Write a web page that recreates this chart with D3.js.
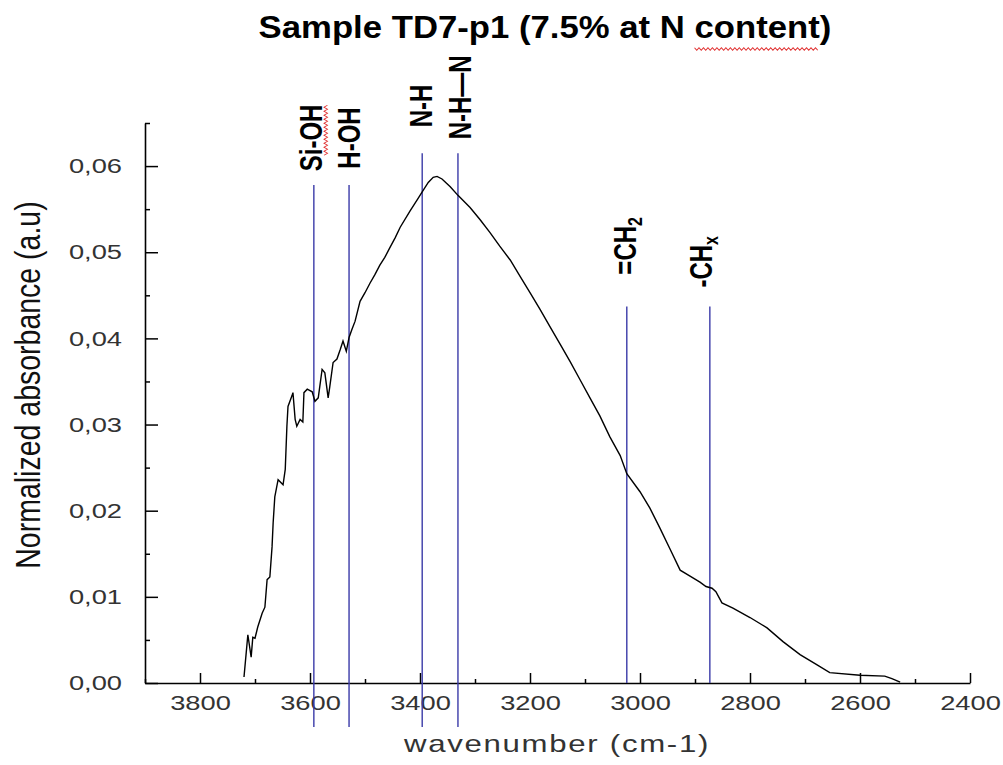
<!DOCTYPE html>
<html>
<head>
<meta charset="utf-8">
<script src="https://cdn.jsdelivr.net/npm/d3@7"></script>
<style>
body { margin: 0; background: #fff; }
text { font-family: "Liberation Sans", Arial, sans-serif; }
</style>
</head>
<body>
<div id="graph"></div>
<script>
// spectrum (cm-1, normalized absorbance)
var wavenumber = [3720, 3716, 3713, 3707, 3704, 3700, 3695, 3687, 3682, 3678, 3673, 3669, 3667, 3664, 3658, 3649, 3645, 3642, 3640, 3633,
    3631, 3627, 3624, 3618, 3613, 3611, 3605, 3596, 3591, 3585, 3578, 3573, 3567, 3564, 3558, 3551, 3545, 3540, 3534, 3529,
    3524, 3518, 3509, 3500, 3491, 3482, 3473, 3464, 3455, 3445, 3436, 3418, 3404, 3396, 3385, 3376, 3369, 3360, 3345, 3331,
    3309, 3291, 3273, 3255, 3236, 3218, 3200, 3182, 3164, 3145, 3127, 3109, 3091, 3073, 3055, 3036, 3024, 3000, 2982, 2964,
    2945, 2927, 2909, 2891, 2880, 2869, 2862, 2851, 2831, 2800, 2769, 2740, 2709, 2678, 2655, 2600, 2555, 2542, 2527];
var absorbance = [0.0007, 0.0035, 0.0056, 0.0030, 0.0053, 0.0052, 0.0065, 0.0081, 0.0088, 0.0120, 0.0123, 0.0158, 0.0186, 0.0216, 0.0236, 0.0230, 0.0248, 0.0298, 0.0321, 0.0333,
    0.0337, 0.0306, 0.0298, 0.0306, 0.0303, 0.0337, 0.0341, 0.0338, 0.0327, 0.0331, 0.0364, 0.0360, 0.0331, 0.0344, 0.0372, 0.0376, 0.0387, 0.0397, 0.0385, 0.0401,
    0.0410, 0.0420, 0.0443, 0.0453, 0.0464, 0.0474, 0.0485, 0.0494, 0.0505, 0.0517, 0.0529, 0.0548, 0.0562, 0.0570, 0.0581, 0.0587, 0.0588, 0.0585, 0.0576, 0.0566,
    0.0552, 0.0538, 0.0523, 0.0507, 0.0491, 0.0472, 0.0453, 0.0434, 0.0414, 0.0393, 0.0373, 0.0352, 0.0331, 0.0310, 0.0286, 0.0264, 0.0243, 0.0222, 0.0203, 0.0180,
    0.0155, 0.0131, 0.0124, 0.0117, 0.0112, 0.0110, 0.0106, 0.0093, 0.0087, 0.0076, 0.0064, 0.0048, 0.0033, 0.0021, 0.0012, 0.0009, 0.0008, 0.0005, 0.0001];

var xTicks = [3800, 3600, 3400, 3200, 3000, 2800, 2600, 2400];
var xMinor = [3900, 3700, 3500, 3300, 3100, 2900, 2700, 2500];
var yTicks = [0, 0.01, 0.02, 0.03, 0.04, 0.05, 0.06];
var yMinor = [0.005, 0.015, 0.025, 0.035, 0.045, 0.055, 0.065];

// band markers
var bandName = ["Si-OH", "H-OH", "N-H", "N-H\u2014N", "=CH", "-CH"];
var bandSub = ["", "", "", "", "2", "x"];
var bandPos = [3593, 3529, 3396, 3331, 3024, 2873];
var bandTop = [0.0578, 0.0578, 0.0615, 0.0615, 0.0437, 0.0437];
var bandBottom = [-0.0051, -0.0051, -0.0051, -0.0051, 0, 0];
var labelFrom = [0.0594, 0.0597, 0.0645, 0.0631, 0.0474, 0.0459];

var labelNudge = [8, 11, 10, 13, 9, 2];

var W = 1003, H = 765;
var x = d3.scaleLinear().domain([3900, 2400]).range([145, 970]);
var y = d3.scaleLinear().domain([0, 0.065]).range([683, 123]);

var svg = d3.select("#graph").append("svg")
    .attr("width", W)
    .attr("height", H);

function zig(x0, x1, yy) {
    var pts = [];
    for (var t = x0, i = 0; t <= x1; t += 2, i++) pts.push([t, yy + (i % 2 ? 1.3 : -1.3)]);
    return d3.line()(pts);
}

// x axis
var gx = svg.append("g")
    .attr("transform", "translate(0," + y(0) + ")")
    .style("color", "#000")
    .call(d3.axisBottom(x).tickValues(xTicks).tickSizeInner(-10).tickSizeOuter(0).tickPadding(12).tickFormat(d3.format("d")));
gx.select(".domain").style("stroke-width", "1.6px");
gx.selectAll(".tick line").style("stroke-width", "1.5px");
gx.selectAll(".tick text")
    .attr("transform", "scale(1.3,1)")
    .style("font-size", "21px")
    .style("fill", "#333");

svg.append("g")
    .attr("transform", "translate(0," + y(0) + ")")
    .call(d3.axisBottom(x).tickValues(xMinor).tickSizeInner(-4).tickSizeOuter(0).tickFormat(""))
    .call(g => g.select(".domain").remove())
    .selectAll("line").style("stroke", "#000").style("stroke-width", "1.5px");

// y axis
var gy = svg.append("g")
    .attr("transform", "translate(" + x(3900) + ",0)")
    .style("color", "#000")
    .call(d3.axisLeft(y).tickValues(yTicks).tickSizeInner(-13).tickSizeOuter(0)
        .tickFormat(function(d) { return d3.format(".2f")(d).replace(".", ","); }));
gy.select(".domain").style("stroke-width", "1.6px");
gy.selectAll(".tick line").style("stroke-width", "1.5px");
gy.selectAll(".tick text")
    .attr("x", 0)
    .attr("transform", "translate(-23,0) scale(1.3,1)")
    .style("font-size", "21px")
    .style("fill", "#333");

svg.append("g")
    .attr("transform", "translate(" + x(3900) + ",0)")
    .call(d3.axisLeft(y).tickValues(yMinor).tickSizeInner(-5).tickSizeOuter(0).tickFormat(""))
    .call(g => g.select(".domain").remove())
    .selectAll("line").style("stroke", "#000").style("stroke-width", "1.5px");

// band lines
svg.selectAll("line.band")
    .data(bandPos)
    .enter().append("line")
    .attr("class", "band")
    .attr("x1", function(d) { return x(d); })
    .attr("x2", function(d) { return x(d); })
    .attr("y1", function(d, i) { return y(bandTop[i]); })
    .attr("y2", function(d, i) { return y(bandBottom[i]); })
    .style("stroke", "#3a3aa8")
    .style("stroke-width", "1.4px");

// spectrum
var pts = wavenumber.map(function(w, i) { return [w, absorbance[i]]; });
svg.append("path")
    .datum(pts)
    .attr("d", d3.line().x(function(d) { return x(d[0]); }).y(function(d) { return y(d[1]); }))
    .style("fill", "none")
    .style("stroke", "#000")
    .style("stroke-width", "1.4px");

// band labels (rotated)
var lab = svg.selectAll("g.lab")
    .data(bandName)
    .enter().append("g")
    .attr("class", "lab")
    .attr("transform", function(d, i) {
        return "translate(" + (x(bandPos[i]) + labelNudge[i]) + "," + y(labelFrom[i]) + ") scale(1.3,1) rotate(-90)";
    });
var labText = lab.append("text")
    .style("font-size", "24px")
    .style("font-weight", "bold")
    .style("fill", "#000")
    .text(function(d) { return d; });
labText.filter(function(d, i) { return bandSub[i] != ""; })
    .append("tspan")
    .attr("dy", 5)
    .style("font-size", "16px")
    .text(function(d) { return bandSub[bandName.indexOf(d)]; });

// spell-check squiggle beside Si-OH
var si = labText.filter(function(d) { return d == "Si-OH"; }).node();
d3.select(si.parentNode).append("path")
    .attr("d", zig(si.getStartPositionOfChar(1).x, si.getEndPositionOfChar(4).x, 3))
    .style("fill", "none").style("stroke", "#e03030").style("stroke-width", "0.9px");

// title
var tg = svg.append("g").attr("transform", "translate(545,38) scale(1.12,1)");
var title = tg.append("text")
    .attr("text-anchor", "middle")
    .style("font-size", "31px")
    .style("font-weight", "bold")
    .style("fill", "#000")
    .text("Sample TD7-p1 (7.5% at N content)");
var tn = title.node(), tstr = "Sample TD7-p1 (7.5% at N content)", ci = tstr.indexOf("content");
tg.append("path")
    .attr("d", zig(tn.getStartPositionOfChar(ci).x, tn.getEndPositionOfChar(ci + 6).x, 11))
    .style("fill", "none").style("stroke", "#e03030").style("stroke-width", "0.9px");

// axis titles
svg.append("text")
    .attr("transform", "translate(557,752) scale(1.3,1)")
    .attr("text-anchor", "middle")
    .style("font-size", "24px")
    .style("letter-spacing", "1.3px")
    .style("fill", "#333")
    .text("wavenumber (cm-1)");

svg.append("text")
    .attr("transform", "translate(40,385) scale(1.25,1) rotate(-90)")
    .attr("text-anchor", "middle")
    .style("font-size", "28.5px")
    .style("fill", "#111")
    .text("Normalized absorbance (a.u)");
</script>
</body>
</html>
